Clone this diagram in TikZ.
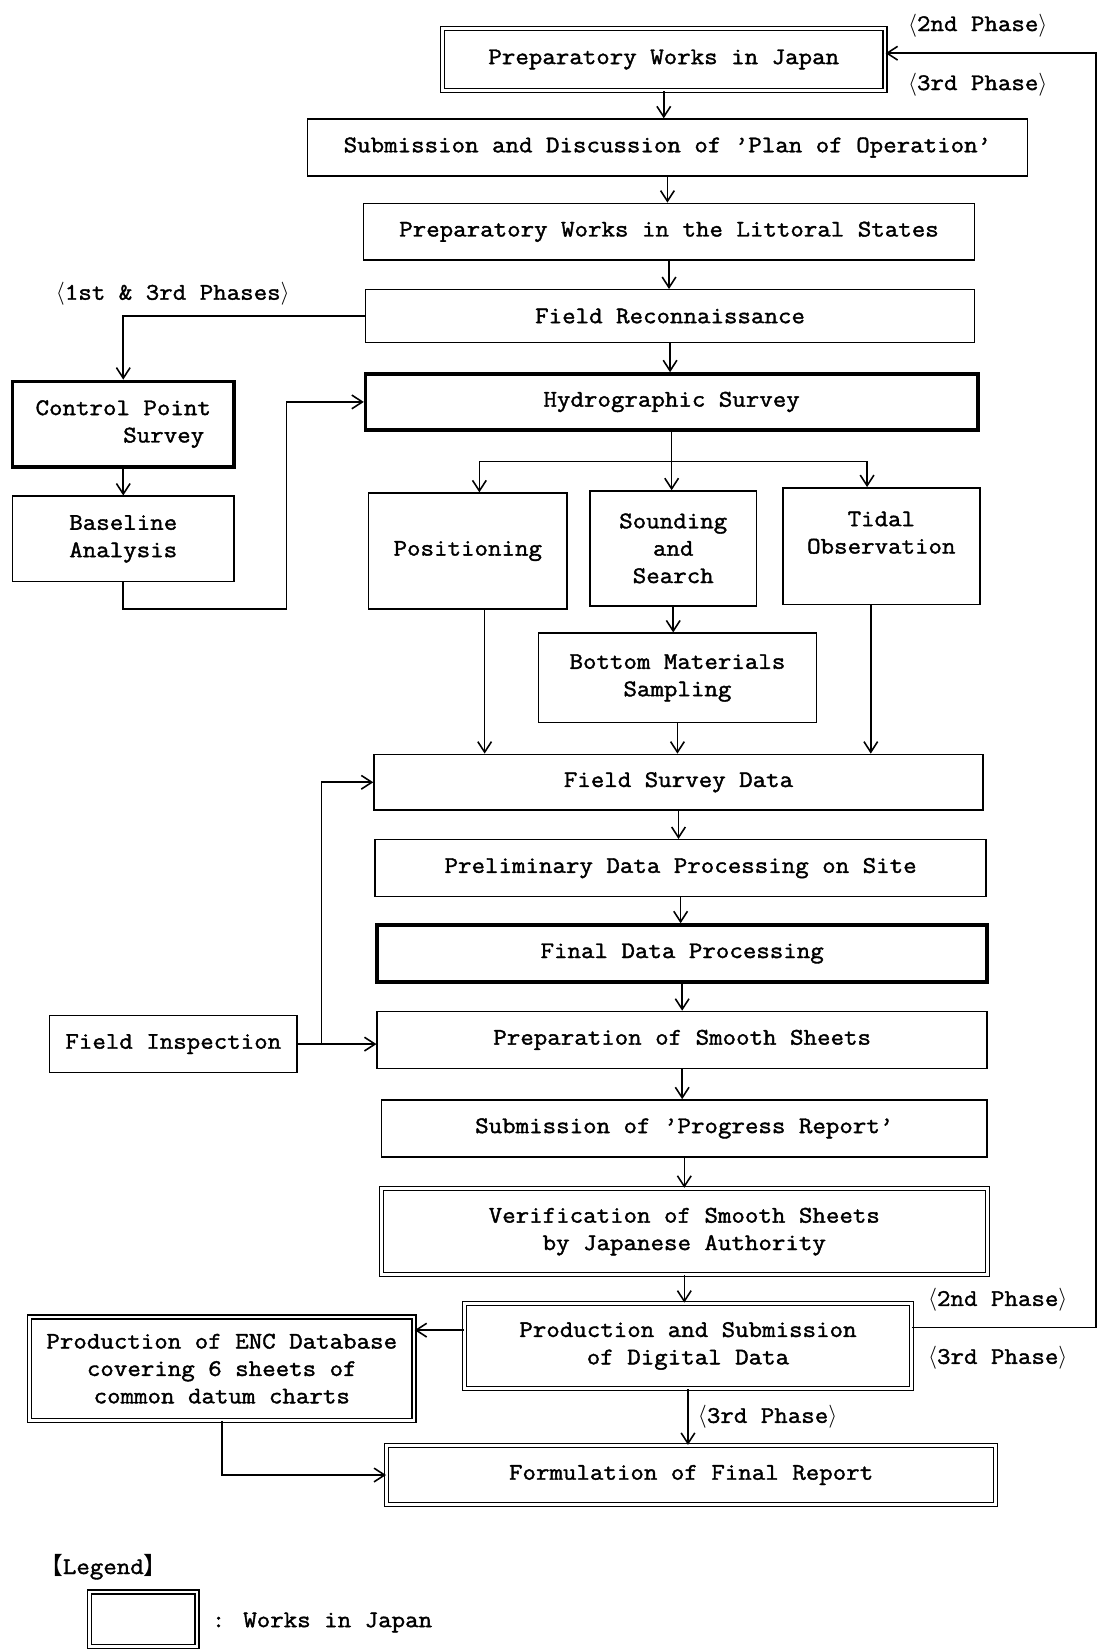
\documentclass[tikz,border=0pt]{standalone}
\usepackage{fontspec}
\setmainfont{Latin Modern Mono}[FakeBold=1.6, FakeStretch=1.1]
\newfontfamily\cjkfont{Noto Sans CJK JP}
\usepackage{tikz}
\usetikzlibrary{arrows.meta}

\begin{document}
\begin{tikzpicture}[x=0.5pt, y=-0.5pt,
  font=\fontsize{11.3}{13}\selectfont,
  box/.style={draw, line width=0.7pt, align=center, inner sep=0pt},
  heavybox/.style={box, line width=1.7pt},
  japanbox/.style={box, double, double distance=1.3pt, line width=0.6pt},
  link/.style={line width=0.75pt},
  flow/.style={link, -{Straight Barb[length=5pt,width=6.5pt]}},
]
\useasboundingbox (0,0) rectangle (1043,1568);

% main column
\node[japanbox, minimum width=210pt, minimum height=29.5pt] (japan) at (630,56.5) {Preparatory Works in Japan};
\node[box, minimum width=341.5pt, minimum height=27pt] (plan) at (633.5,140) {Submission and Discussion of 'Plan of Operation'};
\node[box, minimum width=290pt, minimum height=27pt] (littoral) at (635,220) {Preparatory Works in the Littoral States};
\node[box, minimum width=289pt, minimum height=25pt] (recon) at (636,300) {Field Reconnaissance};
\node[heavybox, minimum width=290.5pt, minimum height=26.5pt] (hydro) at (637.5,381.5) {Hydrographic Survey};

% left column
\node[heavybox, minimum width=105pt, minimum height=40.5pt] (ctrl) at (117,402.5) {Control Point\\\phantom{Contro}Survey};
\node[box, minimum width=105pt, minimum height=40.5pt] (base) at (117,511.5) {Baseline\\Analysis};

% survey works
\node[box, minimum width=94pt, minimum height=55pt] (posit) at (444,523) {Positioning};
\node[box, minimum width=79pt, minimum height=54.5pt] (sound) at (639,520.5) {Sounding\\and\\Search};
\node[box, minimum width=93.5pt, minimum height=55.5pt] (tidal) at (836.5,518.5) {Tidal\\Observation\\\mbox{}};
\node[box, minimum width=132pt, minimum height=42.5pt] (bottom) at (643,643.5) {Bottom Materials\\Sampling};

% data processing
\node[box, minimum width=289pt, minimum height=26.5pt] (fsd) at (644,742.5) {Field Survey Data};
\node[box, minimum width=290pt, minimum height=27pt] (prelim) at (646,824) {Preliminary Data Processing on Site};
\node[heavybox, minimum width=289.5pt, minimum height=27pt] (final) at (647.5,905) {Final Data Processing};
\node[box, minimum width=289.5pt, minimum height=27pt] (smooth) at (647.5,987) {Preparation of Smooth Sheets};
\node[box, minimum width=117.5pt, minimum height=27pt] (inspect) at (164.5,991) {Field Inspection};
\node[box, minimum width=287.5pt, minimum height=27pt] (progress) at (649.5,1071) {Submission of 'Progress Report'};
\node[japanbox, minimum width=287.5pt, minimum height=41pt] (verif) at (649.5,1169) {Verification of Smooth Sheets\\by Japanese Authority};
\node[japanbox, minimum width=212pt, minimum height=40.5pt] (digital) at (653,1277.5) {Production and Submission\\of Digital Data};
\node[japanbox, minimum width=182.5pt, minimum height=49pt] (enc) at (210.5,1299) {Production of ENC Database\\covering 6 sheets of\\common datum charts};
\node[japanbox, minimum width=289pt, minimum height=28pt] (report) at (656,1400) {Formulation of Final Report};

% phase labels
\node (ph2top) at (928,24) {$\langle$2nd Phase$\rangle$};
\node (ph3top) at (928,80) {$\langle$3rd Phase$\rangle$};
\node (ph13) at (164,279) {$\langle$1st \& 3rd Phases$\rangle$};
\node (ph2bot) at (947,1234) {$\langle$2nd Phase$\rangle$};
\node (ph3bot) at (947,1289) {$\langle$3rd Phase$\rangle$};

% connectors
\draw[flow] (japan.south) -- (japan.south |- plan.north);
\draw[flow] (plan.south) -- (plan.south |- littoral.north);
\draw[flow] (littoral.south) -- (littoral.south |- recon.north);
\draw[flow] (recon.south) -- (recon.south |- hydro.north);
\draw[flow] (recon.west) -| (ctrl.north);
\draw[flow] (ctrl.south) -- (base.north);
\coordinate (ret) at (272,578);
\draw[flow] (base.south) |- (ret) |- (hydro.west);

\coordinate (forkL) at (455,438);
\coordinate (forkR) at (823,438);
\draw[flow] (hydro.south) -- (hydro.south |- sound.north);
\draw[link] (forkL) -- (forkR);
\draw[flow] (forkL) -- (forkL |- posit.north);
\draw[flow] (forkR) -- (forkR |- tidal.north);
\draw[flow] (sound.south) -- (sound.south |- bottom.north);
\draw[flow] ([xshift=8pt]posit.south) -- ([xshift=8pt]posit.south |- fsd.north);
\draw[flow] (bottom.south) -- (bottom.south |- fsd.north);
\draw[flow] ([xshift=-5pt]tidal.south) -- ([xshift=-5pt]tidal.south |- fsd.north);

\draw[flow] (fsd.south) -- (fsd.south |- prelim.north);
\draw[flow] (prelim.south) -- (prelim.south |- final.north);
\draw[flow] (final.south) -- (final.south |- smooth.north);
\draw[flow] (smooth.south) -- (smooth.south |- progress.north);
\draw[flow] (progress.south) -- (progress.south |- verif.north);
\draw[flow] (verif.south) -- (verif.south |- digital.north);

\coordinate (insp) at (305,991);
\draw[link] (inspect.east) -- (insp);
\draw[flow] (insp) |- (fsd.west);
\draw[flow] (insp) -- (insp -| smooth.west);

\draw[flow] ([yshift=7.5pt]digital.west) -- ([yshift=7.5pt]digital.west -| enc.east);
\draw[flow] (digital.south) -- (digital.south |- report.north)
  node[midway, right=1pt] (ph3mid) {$\langle$3rd Phase$\rangle$};
\draw[flow] (enc.south) |- (report.west);
\coordinate (loop) at (1040,1260);
\draw[flow] (loop -| digital.east) -- (loop) |- ([yshift=3pt]japan.east);

% Legend
\node[anchor=west] (legtitle) at (30,1487) {{\cjkfont 【}Legend{\cjkfont 】}};
\node[japanbox, minimum width=51pt, minimum height=26pt] (legbox) at (136,1537) {};
\node[anchor=west] (legtext) at (194,1540) {: Works in Japan};
\end{tikzpicture}
\end{document}
